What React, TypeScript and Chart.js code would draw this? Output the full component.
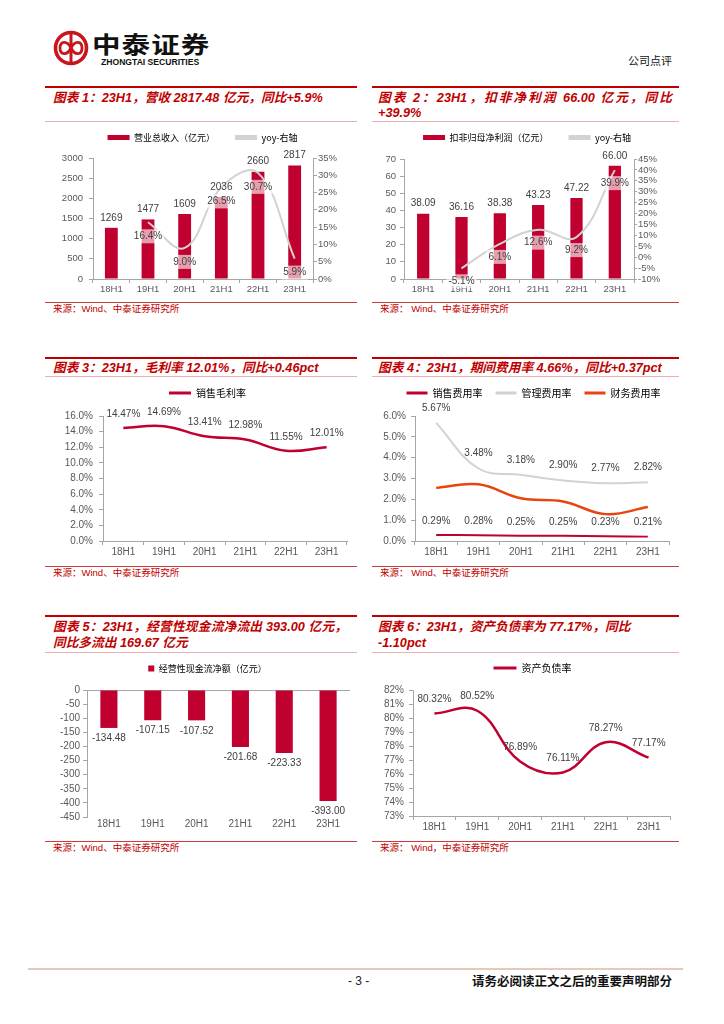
import React, { useEffect, useRef } from 'react';
import { Chart, registerables } from 'chart.js';

Chart.register(...registerables);

// ---------------- data ----------------
const categories = ['18H1', '19H1', '20H1', '21H1', '22H1', '23H1'];

const revenue = [1269, 1477, 1609, 2036, 2660, 2817];
const revenueYoy = [null, 16.4, 9.0, 26.5, 30.7, 5.9];

const profit = [38.09, 36.16, 38.38, 43.23, 47.22, 66.0];
const profitYoy = [null, -5.1, 6.1, 12.6, 9.2, 39.9];

const grossMargin = [14.47, 14.69, 13.41, 12.98, 11.55, 12.01];

const sellingRate = [0.29, 0.28, 0.25, 0.25, 0.23, 0.21];
const adminRate = [5.67, 3.48, 3.18, 2.9, 2.77, 2.82];
const financeRate = [2.55, 2.72, 2.05, 1.9, 1.29, 1.63];

const cashFlow = [-134.48, -107.15, -107.52, -201.68, -223.33, -393.0];

const debtRatio = [80.32, 80.52, 76.89, 76.11, 78.27, 77.17];

// ---------------- style constants ----------------
const RED = '#C0002E';
const GRAY_LINE = '#D2D2D2';
const ORANGE = '#E8450E';
const TICK = '#595959';
const LABEL = '#404040';
const AXIS = '#A6A6A6';
const TITLE_RED = '#C00000';
const LATIN = '"Liberation Sans", Arial, sans-serif';
const CJK = '"Noto Sans CJK SC", "Liberation Sans", sans-serif';
const MIXED = '"Liberation Sans", "Noto Sans CJK SC", sans-serif';
const X_H = 20;

type LabelItem = { dataset: number; dy: number; format: (v: number) => string; bg?: string; size?: number };

function makeValueLabels(items: LabelItem[]) {
  return {
    id: 'valueLabels',
    afterDatasetsDraw(chart: any) {
      const ctx = chart.ctx as CanvasRenderingContext2D;
      ctx.save();
      ctx.textAlign = 'center';
      ctx.textBaseline = 'middle';
      for (const it of items) {
        const meta = chart.getDatasetMeta(it.dataset);
        const values = chart.data.datasets[it.dataset].data as (number | null)[];
        ctx.font = `${it.size ?? 10}px ${LATIN}`;
        meta.data.forEach((el: any, i: number) => {
          const v = values[i];
          if (v === null || v === undefined) return;
          const text = it.format(v);
          const x = el.x;
          const y = el.y + it.dy;
          if (it.bg) {
            const w = ctx.measureText(text).width + 4;
            ctx.fillStyle = it.bg;
            ctx.fillRect(x - w / 2, y - 7, w, 14);
          }
          ctx.fillStyle = LABEL;
          ctx.fillText(text, x, y);
        });
      }
      ctx.restore();
    },
  };
}

function legendShift(dx: number) {
  return {
    id: 'legendShift',
    afterLayout(chart: any) {
      if (chart.legend && dx) {
        chart.legend.left += dx;
        chart.legend.right += dx;
      }
    },
  };
}

type Geo = {
  left: number; right: number; legendY: number; plotTop: number; plotBottom: number;
  padR: number; fs: number; boxW: number; boxH: number; pad: number; legendCenter: number;
};

function frame(g: Geo) {
  const ih = Math.max(g.fs, g.boxH);
  const top = Math.round(g.legendY - g.pad - ih / 2);
  const spacer = g.plotTop - (top + ih + g.pad + 10 + 1);
  const height = Math.round(g.plotBottom + X_H - top);
  const dx = g.legendCenter - (g.left + g.right - g.padR) / 2;
  return { top, spacer, height, width: g.right - g.left, dx };
}

function yAxis(o: { position?: string; min: number; max: number; step: number; fmt: (v: number) => string; width: number; pad: number; tick?: number; zeroLine?: boolean; size?: number }) {
  return {
    position: o.position ?? 'left',
    min: o.min,
    max: o.max,
    ticks: {
      stepSize: o.step,
      autoSkip: false,
      callback: (v: any) => o.fmt(Number(v)),
      font: { size: o.size ?? 10, family: LATIN },
      color: TICK,
      padding: o.pad,
    },
    border: { display: true, color: AXIS, width: 1 },
    grid: o.zeroLine
      ? {
          drawOnChartArea: true,
          drawTicks: true,
          tickLength: o.tick ?? 4,
          color: (c: any) => (c.tick && c.tick.value === 0 ? AXIS : 'rgba(0,0,0,0)'),
          tickColor: AXIS,
        }
      : { drawOnChartArea: false, drawTicks: true, tickLength: o.tick ?? 4, color: AXIS },
    afterFit: (s: any) => {
      s.width = o.width;
    },
  };
}

function xAxis(showBorder = true, size = 10) {
  return {
    type: 'category',
    offset: true,
    ticks: { font: { size, family: LATIN }, color: TICK, padding: 1, maxRotation: 0, autoSkip: false },
    border: { display: showBorder, color: AXIS, width: 1 },
    grid: { offset: true, drawOnChartArea: false, drawTicks: showBorder, tickLength: 4, color: AXIS },
    afterFit: (s: any) => {
      s.height = X_H;
    },
  };
}

function commonOptions(g: Geo, spacer: number, scales: any) {
  return {
    responsive: false,
    animation: false,
    layout: { padding: { left: 0, right: g.padR, top: 0, bottom: 0 } },
    plugins: {
      legend: {
        display: true,
        position: 'top',
        align: 'center',
        labels: {
          font: { size: g.fs, family: CJK },
          color: TICK,
          boxWidth: g.boxW,
          boxHeight: g.boxH,
          padding: g.pad,
          sort: (a: any, b: any) => a.datasetIndex - b.datasetIndex,
          generateLabels: (chart: any) =>
            chart.data.datasets.map((ds: any, i: number) => {
              const c = ds.type === 'line' || (chart.config.type === 'line' && ds.type !== 'bar') ? ds.borderColor : ds.backgroundColor;
              return { text: ds.label, fillStyle: c, strokeStyle: c, lineWidth: 0, hidden: false, datasetIndex: i };
            }),
        },
      },
      title: {
        display: true,
        text: '',
        font: { size: 1, lineHeight: 1 },
        padding: { top: 0, bottom: spacer },
        weight: 500,
      },
      tooltip: { enabled: false },
    },
    scales,
  };
}

type Spec = { g: Geo; build: (spacer: number) => any };

function ChartBox({ spec }: { spec: Spec }) {
  const ref = useRef<HTMLCanvasElement>(null);
  const f = frame(spec.g);
  useEffect(() => {
    if (!ref.current) return;
    const cfg = spec.build(f.spacer);
    cfg.plugins = [...(cfg.plugins || []), legendShift(f.dx)];
    const chart = new Chart(ref.current, cfg);
    return () => chart.destroy();
  }, []);
  return (
    <canvas
      ref={ref}
      width={f.width}
      height={f.height}
      style={{ position: 'absolute', left: spec.g.left, top: f.top, width: f.width, height: f.height }}
    />
  );
}

// ---------------- chart specs ----------------
const g1: Geo = { left: 45, right: 357, legendY: 137, plotTop: 158, plotBottom: 279, padR: 0, fs: 9, boxW: 22, boxH: 5, pad: 20, legendCenter: 202.5 };
const spec1: Spec = {
  g: g1,
  build: (sp) => ({
    type: 'bar',
    data: {
      labels: categories,
      datasets: [
        { type: 'bar', label: '营业总收入（亿元）', data: revenue, backgroundColor: RED, categoryPercentage: 1, barPercentage: 0.35, yAxisID: 'y', order: 2 },
        { type: 'line', label: 'yoy-右轴', data: revenueYoy, borderColor: GRAY_LINE, backgroundColor: GRAY_LINE, borderWidth: 2, pointRadius: 0, tension: 0.4, yAxisID: 'y1', order: 1 },
      ],
    },
    options: commonOptions(g1, sp, {
      x: xAxis(true, 9.5),
      y: yAxis({ min: 0, max: 3000, step: 500, fmt: (v) => String(v), width: 48, pad: 6, size: 9.5 }),
      y1: yAxis({ position: 'right', min: 0, max: 35, step: 5, fmt: (v) => v + '%', width: 44, pad: 1, size: 9.5 }),
    }),
    plugins: [
      makeValueLabels([
        { dataset: 0, dy: -10, format: (v) => String(Math.round(v)) },
        { dataset: 1, dy: 14, format: (v) => v.toFixed(1) + '%', bg: 'rgba(255,255,255,0.62)' },
      ]),
    ],
  }),
};

const g2: Geo = { left: 372, right: 679, legendY: 137, plotTop: 159, plotBottom: 279, padR: 0, fs: 9, boxW: 22, boxH: 5, pad: 20, legendCenter: 527 };
const spec2: Spec = {
  g: g2,
  build: (sp) => ({
    type: 'bar',
    data: {
      labels: categories,
      datasets: [
        { type: 'bar', label: '扣非归母净利润（亿元）', data: profit, backgroundColor: RED, categoryPercentage: 1, barPercentage: 0.32, yAxisID: 'y', order: 2 },
        { type: 'line', label: 'yoy-右轴', data: profitYoy, borderColor: GRAY_LINE, backgroundColor: GRAY_LINE, borderWidth: 2, pointRadius: 0, tension: 0.4, yAxisID: 'y1', order: 1 },
      ],
    },
    options: commonOptions(g2, sp, {
      x: xAxis(true, 9.5),
      y: yAxis({ min: 0, max: 70, step: 10, fmt: (v) => String(v), width: 32, pad: 4, size: 9.5 }),
      y1: yAxis({ position: 'right', min: -10, max: 45, step: 5, fmt: (v) => v + '%', width: 45, pad: 1, tick: 3, size: 9.5 }),
    }),
    plugins: [
      makeValueLabels([
        { dataset: 0, dy: -10, format: (v) => v.toFixed(2) },
        { dataset: 1, dy: 13, format: (v) => v.toFixed(1) + '%', bg: 'rgba(255,255,255,0.62)' },
      ]),
    ],
  }),
};

const g3: Geo = { left: 45, right: 357, legendY: 393, plotTop: 416, plotBottom: 541, padR: 10, fs: 10, boxW: 22, boxH: 3, pad: 10, legendCenter: 207.5 };
const spec3: Spec = {
  g: g3,
  build: (sp) => ({
    type: 'line',
    data: {
      labels: categories,
      datasets: [
        { label: '销售毛利率', data: grossMargin, borderColor: RED, backgroundColor: RED, borderWidth: 2.5, pointRadius: 0, tension: 0.4 },
      ],
    },
    options: commonOptions(g3, sp, {
      x: xAxis(),
      y: yAxis({ min: 0, max: 16, step: 2, fmt: (v) => v.toFixed(1) + '%', width: 58, pad: 6 }),
    }),
    plugins: [makeValueLabels([{ dataset: 0, dy: -14, format: (v) => v.toFixed(2) + '%' }])],
  }),
};

const g4: Geo = { left: 372, right: 679, legendY: 393, plotTop: 416, plotBottom: 541, padR: 10, fs: 10, boxW: 21, boxH: 3, pad: 13, legendCenter: 533.5 };
const spec4: Spec = {
  g: g4,
  build: (sp) => ({
    type: 'line',
    data: {
      labels: categories,
      datasets: [
        { label: '销售费用率', data: sellingRate, borderColor: RED, backgroundColor: RED, borderWidth: 2, pointRadius: 0, tension: 0.4 },
        { label: '管理费用率', data: adminRate, borderColor: GRAY_LINE, backgroundColor: GRAY_LINE, borderWidth: 2, pointRadius: 0, tension: 0.4 },
        { label: '财务费用率', data: financeRate, borderColor: ORANGE, backgroundColor: ORANGE, borderWidth: 2.5, pointRadius: 0, tension: 0.4 },
      ],
    },
    options: commonOptions(g4, sp, {
      x: xAxis(),
      y: yAxis({ min: 0, max: 6, step: 1, fmt: (v) => v.toFixed(1) + '%', width: 43, pad: 5 }),
    }),
    plugins: [
      makeValueLabels([
        { dataset: 0, dy: -14, format: (v) => v.toFixed(2) + '%' },
        { dataset: 1, dy: -15, format: (v) => v.toFixed(2) + '%' },
      ]),
    ],
  }),
};

const g5: Geo = { left: 45, right: 357, legendY: 668, plotTop: 690, plotBottom: 817, padR: 7, fs: 9, boxW: 6, boxH: 6, pad: 10, legendCenter: 207.5 };
const spec5: Spec = {
  g: g5,
  build: (sp) => ({
    type: 'bar',
    data: {
      labels: categories,
      datasets: [
        { label: '经营性现金流净额（亿元）', data: cashFlow, backgroundColor: RED, categoryPercentage: 1, barPercentage: 0.39 },
      ],
    },
    options: commonOptions(g5, sp, {
      x: xAxis(false),
      y: yAxis({ min: -450, max: 0, step: 50, fmt: (v) => String(v), width: 42, pad: 3, zeroLine: true }),
    }),
    plugins: [makeValueLabels([{ dataset: 0, dy: 10.5, format: (v) => v.toFixed(2) }])],
  }),
};

const g6: Geo = { left: 372, right: 679, legendY: 668, plotTop: 690, plotBottom: 816, padR: 9, fs: 10, boxW: 23, boxH: 3, pad: 10, legendCenter: 532.5 };
const spec6: Spec = {
  g: g6,
  build: (sp) => ({
    type: 'line',
    data: {
      labels: categories,
      datasets: [
        { label: '资产负债率', data: debtRatio, borderColor: RED, backgroundColor: RED, borderWidth: 2.5, pointRadius: 0, tension: 0.4 },
      ],
    },
    options: commonOptions(g6, sp, {
      x: xAxis(),
      y: yAxis({ min: 73, max: 82, step: 1, fmt: (v) => v + '%', width: 41, pad: 5 }),
    }),
    plugins: [makeValueLabels([{ dataset: 0, dy: -14, format: (v) => v.toFixed(2) + '%' }])],
  }),
};

// ---------------- page decoration ----------------
const abs = (s: React.CSSProperties): React.CSSProperties => ({ position: 'absolute', ...s });

const titleBase: React.CSSProperties = {
  position: 'absolute',
  color: TITLE_RED,
  fontFamily: MIXED,
  fontWeight: 'bold',
  fontStyle: 'italic',
  fontSize: 12.7,
  lineHeight: '16px',
  whiteSpace: 'nowrap',
};

function PanelFrame(p: { left: number; right: number; redTop: number; pinkY: number; bottomY: number; sourceY: number; source: string }) {
  const w = p.right - p.left;
  return (
    <>
      <div style={abs({ left: p.left, top: p.redTop, width: w, height: 2, background: TITLE_RED })} />
      <div style={abs({ left: p.left, top: p.pinkY, width: w, height: 1, background: '#EBB0B0' })} />
      <div style={abs({ left: p.left, top: p.bottomY, width: w, height: 1, background: '#D23A3A' })} />
      <div style={abs({ left: p.left + 8, top: p.sourceY - 7, fontSize: 9.5, lineHeight: '14px', color: TITLE_RED, fontFamily: MIXED, whiteSpace: 'nowrap' })}>{p.source}</div>
    </>
  );
}

function Title(p: { left: number; centerY: number; text: string; width?: number; justify?: boolean }) {
  const style: React.CSSProperties = { ...titleBase, left: p.left, top: p.centerY - 8 };
  if (p.justify && p.width) {
    style.width = p.width;
    style.textAlign = 'justify';
    (style as any).textAlignLast = 'justify';
  }
  return <div style={style}>{p.text}</div>;
}

function Logo() {
  return (
    <svg width={40} height={40} viewBox="0 0 40 40" style={abs({ left: 51, top: 28 })}>
      <circle cx={20} cy={20} r={15.5} fill="none" stroke="#C8161D" strokeWidth={3.6} />
      <path d="M20 6 L20 34" stroke="#C8161D" strokeWidth={3} />
      <path d="M20 20 C16 12, 9 13, 9 20 C9 27, 16 28, 20 20 C24 12, 31 13, 31 20 C31 27, 24 28, 20 20 Z" fill="none" stroke="#C8161D" strokeWidth={2.8} />
    </svg>
  );
}

export default function App() {
  return (
    <div style={abs({ left: 0, top: 0, width: 724, height: 1024, background: '#fff', overflow: 'hidden', fontFamily: MIXED })}>
      {/* header */}
      <Logo />
      <div style={abs({ left: 92, top: 30, fontFamily: CJK, fontWeight: 'bold', fontSize: 28, lineHeight: '34px', color: '#111', letterSpacing: 1, transform: 'scale(1.02, 0.8)', transformOrigin: 'left top', whiteSpace: 'nowrap' })}>中泰证券</div>
      <div style={abs({ left: 101, top: 57, fontFamily: LATIN, fontWeight: 'bold', fontSize: 8.6, lineHeight: '10px', color: '#111', whiteSpace: 'nowrap' })}>ZHONGTAI SECURITIES</div>
      <div style={abs({ left: 628, top: 53, fontFamily: CJK, fontSize: 11, lineHeight: '14px', color: '#111', whiteSpace: 'nowrap' })}>公司点评</div>

      {/* panel 1 */}
      <PanelFrame left={45} right={357} redTop={86} pinkY={121} bottomY={302} sourceY={309} source="来源：Wind、中泰证券研究所" />
      <Title left={53} centerY={98} text="图表 1：23H1，营收 2817.48 亿元，同比+5.9%" />
      {/* panel 2 */}
      <PanelFrame left={372} right={679} redTop={86} pinkY={121} bottomY={302} sourceY={309} source="来源： Wind、中泰证券研究所" />
      <Title left={378} centerY={98} width={294} justify text="图表 2：23H1，扣非净利润 66.00 亿元，同比" />
      <Title left={378} centerY={113} text="+39.9%" />
      {/* panel 3 */}
      <PanelFrame left={45} right={357} redTop={357} pinkY={376} bottomY={566} sourceY={573} source="来源：Wind、中泰证券研究所" />
      <Title left={53} centerY={368} text="图表 3：23H1，毛利率 12.01%，同比+0.46pct" />
      {/* panel 4 */}
      <PanelFrame left={372} right={679} redTop={357} pinkY={376} bottomY={566} sourceY={573} source="来源： Wind、中泰证券研究所" />
      <Title left={378} centerY={368} text="图表 4：23H1，期间费用率 4.66%，同比+0.37pct" />
      {/* panel 5 */}
      <PanelFrame left={45} right={357} redTop={615} pinkY={652} bottomY={841} sourceY={848} source="来源：Wind、中泰证券研究所" />
      <Title left={53} centerY={627} width={294} justify text="图表 5：23H1，经营性现金流净流出 393.00 亿元，" />
      <Title left={53} centerY={643} text="同比多流出 169.67 亿元" />
      {/* panel 6 */}
      <PanelFrame left={372} right={679} redTop={615} pinkY={652} bottomY={841} sourceY={848} source="来源： Wind，中泰证券研究所" />
      <Title left={378} centerY={627} text="图表 6：23H1，资产负债率为 77.17%，同比" />
      <Title left={378} centerY={643} text="-1.10pct" />

      <ChartBox spec={spec1} />
      <ChartBox spec={spec2} />
      <ChartBox spec={spec3} />
      <ChartBox spec={spec4} />
      <ChartBox spec={spec5} />
      <ChartBox spec={spec6} />

      {/* footer */}
      <div style={abs({ left: 28, top: 968, width: 655, height: 1.5, background: '#E8C9B4' })} />
      <div style={abs({ left: 348, top: 974, fontFamily: LATIN, fontSize: 12, lineHeight: '14px', color: '#222', whiteSpace: 'pre' })}>- 3 -</div>
      <div style={abs({ left: 472, top: 974, fontFamily: CJK, fontWeight: 'bold', fontSize: 12.5, lineHeight: '14px', color: '#111', whiteSpace: 'nowrap' })}>请务必阅读正文之后的重要声明部分</div>
    </div>
  );
}
